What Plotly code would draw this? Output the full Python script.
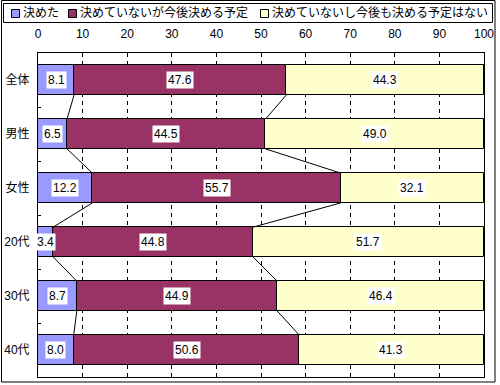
import numpy as np
import plotly.graph_objects as go

categories = ["全体", "男性", "女性", "20代", "30代", "40代"]
series_names = ["決めた", "決めていないが今後決める予定", "決めていないし今後も決める予定はない"]
decided = [8.1, 6.5, 12.2, 3.4, 8.7, 8.0]
will_decide = [47.6, 44.5, 55.7, 44.8, 44.9, 50.6]
no_plan = [44.3, 49.0, 32.1, 51.7, 46.4, 41.3]
x_ticks = [0, 10, 20, 30, 40, 50, 60, 70, 80, 90, 100]

colors = ["#9999FF", "#993366", "#FFFFCC"]
FONT = "Liberation Sans, Noto Sans CJK JP, sans-serif"
BAR_W = 0.55

W, H = 500, 385
L, R, T, B = 38, 16, 53, 8
PW, PH = W - L - R, H - T - B

def px(x):
    return (x - L) / PW

def py(y):
    return (H - B - y) / PH

ypos = np.arange(len(categories))
series = [decided, will_decide, no_plan]

fig = go.Figure()
base = np.zeros(len(categories))
for name, vals, col in zip(series_names, series, colors):
    vals = np.array(vals)
    fig.add_trace(go.Bar(
        y=ypos, x=vals, base=base, orientation="h", name=name,
        marker=dict(color=col, line=dict(color="black", width=1)),
        width=BAR_W, showlegend=False,
    ))
    base = base + vals

# series lines
cum = np.cumsum(np.array(series), axis=0)
for k in range(2):
    xs, ys = [], []
    for i in range(len(categories) - 1):
        xs += [cum[k][i], cum[k][i + 1], None]
        ys += [ypos[i] + BAR_W / 2, ypos[i + 1] - BAR_W / 2, None]
    fig.add_trace(go.Scatter(x=xs, y=ys, mode="lines",
                             line=dict(color="black", width=1),
                             showlegend=False, hoverinfo="skip"))

# data labels
annotations = []
starts = np.vstack([np.zeros(len(categories)), cum[:-1]])
for k, vals in enumerate(series):
    for i, v in enumerate(vals):
        annotations.append(dict(
            x=starts[k][i] + v / 2, y=ypos[i], text=f"{v:.1f}",
            showarrow=False, bgcolor="white", borderpad=1,
            font=dict(family=FONT, size=12, color="black"),
        ))

# manual legend
shapes = [
    dict(type="rect", xref="paper", yref="paper",
         x0=px(1.5), x1=px(495), y0=py(382), y1=py(0.5),
         line=dict(color="black", width=1), layer="below"),
    dict(type="rect", xref="paper", yref="paper",
         x0=px(3.5), x1=px(492.5), y0=py(22.5), y1=py(3.5),
         line=dict(color="black", width=1)),
]
leg_sq = [11, 68, 260]
for name, col, sx in zip(series_names, colors, leg_sq):
    shapes.append(dict(type="rect", xref="paper", yref="paper",
                       x0=px(sx + 0.5), x1=px(sx + 8.5), y0=py(17.5), y1=py(9.5),
                       fillcolor=col, line=dict(color="black", width=1)))
    annotations.append(dict(x=px(sx + 10), y=py(13), xref="paper", yref="paper",
                            text=name, showarrow=False, xanchor="left",
                            yanchor="middle",
                            font=dict(family=FONT, size=12, color="black")))

fig.update_layout(
    width=W, height=H,
    margin=dict(l=L, r=R, t=T, b=B, autoexpand=False),
    paper_bgcolor="white", plot_bgcolor="white",
    barmode="overlay", bargap=0, hovermode=False,
    font=dict(family=FONT, size=12, color="black"),
    annotations=annotations, shapes=shapes,
    xaxis=dict(range=[0, 100], side="top", tickvals=x_ticks, automargin=False,
               showgrid=True, gridcolor="black", gridwidth=1, griddash="4px,4px",
               showline=True, linecolor="black", linewidth=1, mirror=True,
               ticks="", ticklabelstandoff=9, zeroline=False,
               tickfont=dict(family=FONT, size=12)),
    yaxis=dict(range=[len(categories) - 0.5, -0.5], tickvals=ypos, automargin=False,
               ticktext=categories, showgrid=False, zeroline=False,
               showline=True, linecolor="black", linewidth=1, mirror=True,
               ticks="", ticklabelstandoff=5,
               minor=dict(tickvals=list(ypos[:-1] + 0.5), ticks="inside",
                          ticklen=3, tickcolor="black"),
               tickfont=dict(family=FONT, size=12)),
)

fig.write_html("out.html", config={"displayModeBar": False},
               post_script="document.body.style.margin='0px';document.body.style.overflow='hidden';")
